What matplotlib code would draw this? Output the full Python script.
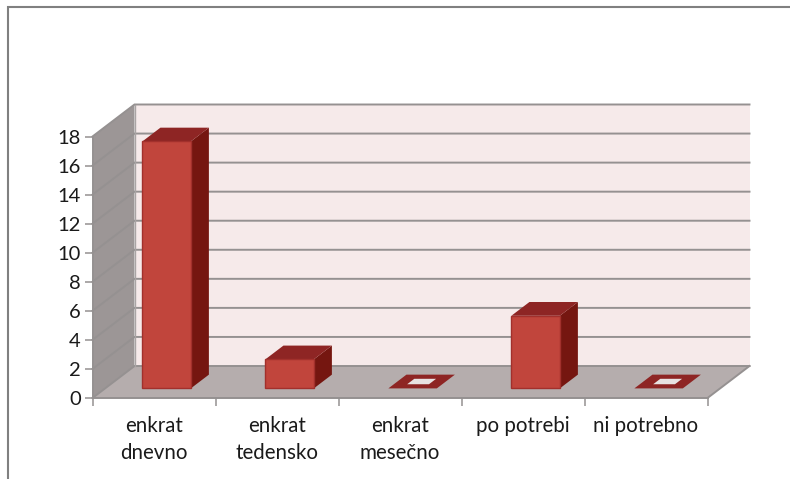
import matplotlib
matplotlib.use("Agg")
import matplotlib.pyplot as plt
from matplotlib.patches import Polygon
from matplotlib.lines import Line2D

categories = ["enkrat\ndnevno", "enkrat\ntedensko", "enkrat\nmesečno", "po potrebi", "ni potrebno"]
values = [17, 2, 0, 5, 0]
y_ticks = list(range(0, 20, 2))

plt.rcParams["font.family"] = ["Lato", "DejaVu Sans"]
W, H = 790, 479
fig = plt.figure(figsize=(W / 100, H / 100), dpi=100, facecolor="white")
L, R, T, B = 92.5, 707.5, 136.5, 398
ax = fig.add_axes([L / W, (H - B) / H, (R - L) / W, (B - T) / H])
ax.set_xlim(-0.5, 4.5)
ax.set_ylim(0, 18)
ax.patch.set_visible(False)

PXX = (R - L) / 5
PXY = (B - T) / 18
DX, DY = 42, 32
GRID = "#959191"


def p(x, v, d=0.0):
    """Oblique projection: depth d (0 front, 1 back) shifts the data point."""
    return (x + d * DX / PXX, v + d * DY / PXY)


def poly(pts, fc, ec="none", lw=0.0, z=1):
    ax.add_patch(Polygon(pts, closed=True, facecolor=fc, edgecolor=ec, linewidth=lw,
                         zorder=z, clip_on=False, joinstyle="miter"))


x0, x1 = -0.5, 4.5
ymax = y_ticks[-1]
# walls and floor
poly([p(x0, 0, 1), p(x1, 0, 1), p(x1, ymax, 1), p(x0, ymax, 1)], "#f6eaea")
poly([p(x0, 0, 0), p(x0, 0, 1), p(x0, ymax, 1), p(x0, ymax, 0)], "#9c9696")
poly([p(x0, 0, 0), p(x1, 0, 0), p(x1, 0, 1), p(x0, 0, 1)], "#b5adad")

# grid on the side wall and back wall
for t in y_ticks:
    pts = [p(x0, t, 0), p(x0, t, 1), p(x1, t, 1)]
    ax.plot(*zip(*pts), color=GRID, lw=1.4, zorder=2, clip_on=False, solid_joinstyle="miter")
pts = [p(x1, 0, 0), p(x1, 0, 1)]
ax.plot(*zip(*pts), color=GRID, lw=1.4, zorder=2, clip_on=False)
pts = [p(x0, 0, 1), p(x0, ymax, 1)]
ax.plot(*zip(*pts), color="#a9a4a4", lw=1.0, zorder=2, clip_on=False)

# bars
BW = 0.197
D0, D1 = 0.30, 0.73
for i, v in enumerate(values):
    a, b = i - BW, i + BW
    if v > 0:
        poly([p(b, 0, D0), p(b, 0, D1), p(b, v, D1), p(b, v, D0)], "#751610", z=3)
        poly([p(a, v, D0), p(b, v, D0), p(b, v, D1), p(a, v, D1)], "#8e2524", z=3)
        poly([p(a, 0, D0), p(b, 0, D0), p(b, v, D0), p(a, v, D0)], "#c1453c",
             ec="#a2302c", lw=1.0, z=4)
    else:
        poly([p(a, 0, D0), p(b, 0, D0), p(b, 0, D1), p(a, 0, D1)], "#8e2524", z=3)
        ia, ib = a + 0.55 * BW, b - 0.55 * BW
        d0, d1 = D0 + 0.13, D1 - 0.13
        poly([p(ia, 0, d0), p(ib, 0, d0), p(ib, 0, d1), p(ia, 0, d1)], "#e8e2e2", z=3)

# axes
for s in ("top", "right"):
    ax.spines[s].set_visible(False)
for s in ("left", "bottom"):
    ax.spines[s].set_color(GRID)
    ax.spines[s].set_linewidth(1.4)
    ax.spines[s].set_zorder(5)
ax.set_yticks(y_ticks)
ax.tick_params(axis="y", length=5.5, width=1.1, color=GRID, pad=3, labelsize=14.5, labelcolor="#1a1a1a")
ax.set_xticks([i - 0.5 for i in range(6)], minor=True)
ax.set_xticks(range(5))
ax.set_xticklabels(categories, linespacing=1.42)
ax.tick_params(axis="x", which="major", length=0, pad=13, labelsize=14.8, labelcolor="#1a1a1a")
ax.tick_params(axis="x", which="minor", length=5.5, width=1.1, color=GRID)

# chart frame
fig.add_artist(Line2D([8 / W, 8 / W, 1], [0, (H - 7) / H, (H - 7) / H],
                      color="#808080", lw=1.5, transform=fig.transFigure,
                      solid_joinstyle="miter"))

fig.savefig("out.png", dpi=100, facecolor="white")
